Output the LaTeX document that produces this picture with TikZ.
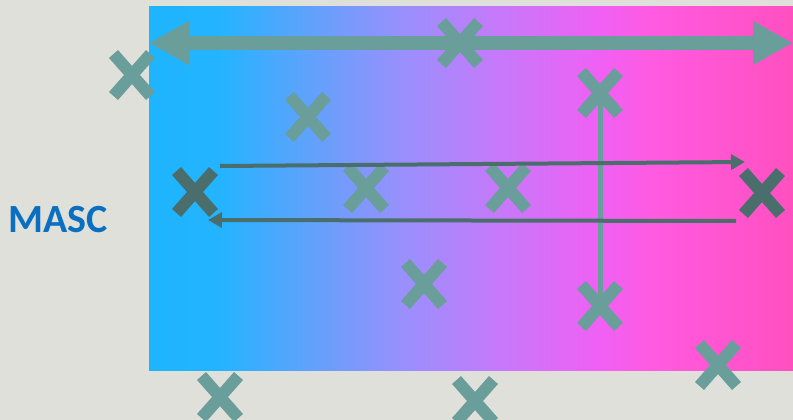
\documentclass[tikz,border=0pt]{standalone}
\usepackage{fontspec}
\newfontfamily\labelfont{Carlito}
\usetikzlibrary{arrows.meta,shapes.misc}
\definecolor{pagegray}{RGB}{224,224,218}
\definecolor{mascblue}{RGB}{11,111,193}
\definecolor{crossteal}{RGB}{106,158,154}
\definecolor{crossdark}{RGB}{74,110,108}
\definecolor{bandA}{RGB}{30,180,254}
\definecolor{bandB}{RGB}{36,180,255}
\definecolor{bandC}{RGB}{88,164,252}
\definecolor{bandD}{RGB}{152,144,252}
\definecolor{bandE}{RGB}{200,120,250}
\definecolor{bandF}{RGB}{240,96,244}
\definecolor{bandG}{RGB}{255,90,225}
\definecolor{bandH}{RGB}{255,80,192}
\pgfdeclarehorizontalshading{bandshade}{100bp}{color(0bp)=(bandA); color(25bp)=(bandA); color(30.5bp)=(bandB); color(36.5bp)=(bandC); color(44.5bp)=(bandD); color(52.5bp)=(bandE); color(60bp)=(bandF); color(64bp)=(bandG); color(75bp)=(bandH); color(100bp)=(bandH)}

\begin{document}
\begin{tikzpicture}[
    x=1pt, y=-1pt,
    crossx/.style={
      cross out,
      draw=crossteal,
      line width=12pt,
      minimum width=25pt,
      minimum height=30pt,
      inner sep=0pt
    },
    crossdk/.style={crossx, draw=crossdark},
    bararrow/.style={{Triangle[length=40pt,width=41pt]}-{Triangle[length=40pt,width=41pt]}, line width=14pt, crossteal},
    barline/.style={line width=5pt, crossteal},
    arrow/.style={-{Triangle[length=14pt,width=15pt]}, line width=4pt, crossdark}
  ]
    \fill[pagegray] (0,0) rectangle (793,420);
    \useasboundingbox (0,0) rectangle (793,420);

    \node[shade, shading=bandshade, minimum width=644pt, minimum height=363pt, inner sep=0pt, outer sep=0pt] (band) at (471,188.5) {};
    \node[font=\labelfont\bfseries\fontsize{40}{40}\selectfont, text=mascblue] (masc) at (58,220) {MASC};

    \node[crossx] (edge) at (132,75) {};
    \node[crossx] (mid) at (460,43) {};
    \node[crossx] (bartop) at (600,93) {};
    \node[crossx] (upper) at (308,117) {};
    \node[crossdk] (startx) at (195,192) {};
    \node[crossx] (lefty) at (366,188) {};
    \node[crossx] (righty) at (508,188) {};
    \node[crossdk] (endx) at (762,193) {};
    \node[crossx] (lower) at (424,284) {};
    \node[crossx] (barbot) at (600,306) {};
    \node[crossx] (corner) at (718,365) {};
    \node[crossx] (belowl) at (220,397) {};
    \node[crossx] (belowm) at (475,401) {};

    \coordinate (fwdfrom) at (220,166);
    \coordinate (fwdto) at (745,162);
    \coordinate (backfrom) at (736,221);
    \coordinate (backto) at (208,220);

    \draw[bararrow] (band.west |- mid) -- (band.east |- mid);
    \draw[barline] (bartop.center) -- (barbot.center);
    \draw[arrow] (fwdfrom) -- (fwdto);
    \draw[arrow] (backfrom) -- (backto);
  \end{tikzpicture}
\end{document}
